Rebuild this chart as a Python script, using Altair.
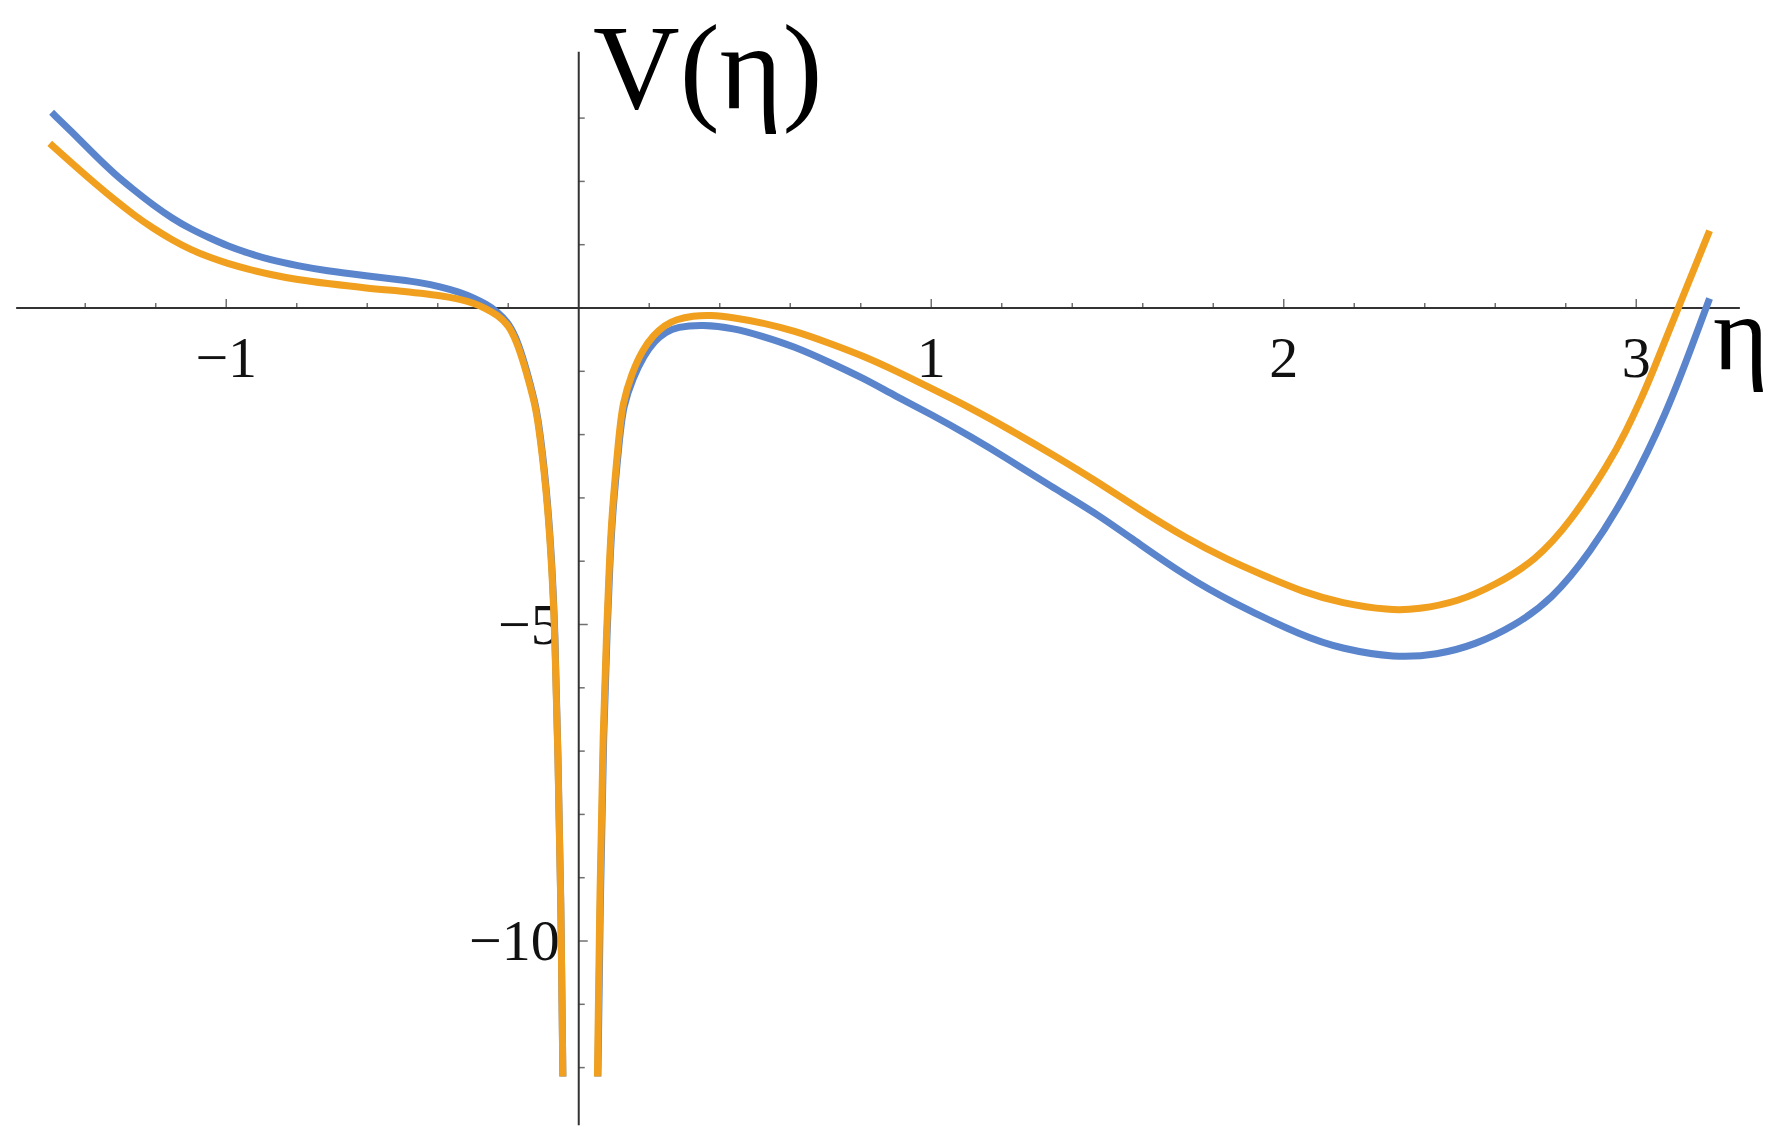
import altair as alt
import pandas as pd

# ---------------- data ----------------
# blue curve, branch left of the singularity
blue_left_eta = [-1.4953, -1.4247, -1.3705, -1.3162, -1.2619, -1.2076, -1.1534, -1.0991,
                 -1.0448, -0.9981, -0.9363, -0.8820, -0.7951, -0.7191, -0.5997, -0.5020,
                 -0.4477, -0.3935, -0.3392, -0.2958, -0.2632, -0.2306, -0.1981, -0.172,
                 -0.147, -0.126, -0.1145, -0.091, -0.077, -0.0675, -0.0588, -0.0508, -0.045]
blue_left_v = [3.091, 2.707, 2.401, 2.112, 1.864, 1.627, 1.417, 1.243,
               1.101, 0.985, 0.864, 0.769, 0.664, 0.590, 0.506, 0.442,
               0.400, 0.337, 0.253, 0.153, 0.063, -0.058, -0.242, -0.54,
               -1.00, -1.45, -1.75, -2.85, -3.94, -5.04, -7.07, -9.18, -12.14]

# blue curve, branch right of the singularity
blue_right_eta = [0.0545, 0.0615, 0.0705, 0.081, 0.0875, 0.095, 0.116, 0.126, 0.154, 0.185,
                  0.215, 0.246, 0.278, 0.352, 0.44, 0.518, 0.612, 0.708, 0.808, 0.898,
                  1.0, 1.112, 1.216, 1.340, 1.47, 1.593, 1.724, 1.842, 2.06, 2.163,
                  2.315, 2.435, 2.543, 2.652, 2.760, 2.869, 2.978, 3.086, 3.162, 3.208]
blue_right_v = [-12.14, -9.18, -6.65, -5.04, -4.15, -3.27, -2.04, -1.55, -1.10, -0.75,
                -0.52, -0.38, -0.30, -0.26, -0.32, -0.44, -0.61, -0.85, -1.11, -1.39,
                -1.68, -2.03, -2.38, -2.82, -3.25, -3.74, -4.24, -4.62, -5.20, -5.38,
                -5.53, -5.48, -5.32, -5.03, -4.61, -3.87, -2.90, -1.66, -0.54, 0.15]

# orange curve, branch left of the singularity
orange_left_eta = [-1.5007, -1.4247, -1.3705, -1.3162, -1.2619, -1.2076, -1.1534, -1.0991,
                   -1.0448, -0.9981, -0.9363, -0.8820, -0.7951, -0.7191, -0.5997, -0.5020,
                   -0.4477, -0.3935, -0.3392, -0.2958, -0.2632, -0.2306, -0.1981, -0.174,
                   -0.149, -0.1275, -0.116, -0.092, -0.078, -0.068, -0.059, -0.051, -0.045]
orange_left_v = [2.601, 2.222, 1.959, 1.706, 1.469, 1.259, 1.074, 0.916,
                 0.795, 0.706, 0.611, 0.537, 0.442, 0.390, 0.311, 0.269,
                 0.232, 0.195, 0.142, 0.074, -0.011, -0.111, -0.27, -0.56,
                 -1.00, -1.45, -1.75, -2.85, -3.94, -5.04, -7.07, -9.18, -12.14]

# orange curve, branch right of the singularity
orange_right_eta = [0.053, 0.060, 0.069, 0.0795, 0.086, 0.0935, 0.114, 0.124, 0.151, 0.181,
                    0.212, 0.244, 0.276, 0.325, 0.372, 0.44, 0.518, 0.612, 0.708, 0.808,
                    0.898, 1.0, 1.112, 1.216, 1.340, 1.47, 1.593, 1.724, 1.842, 1.933,
                    2.06, 2.163, 2.30, 2.381, 2.495, 2.598, 2.713, 2.815, 2.923, 2.97,
                    3.016, 3.043, 3.119, 3.208]
orange_right_v = [-12.14, -9.18, -6.65, -5.04, -4.15, -3.27, -2.02, -1.51, -1.02, -0.66,
                  -0.43, -0.27, -0.18, -0.125, -0.11, -0.15, -0.23, -0.36, -0.55, -0.76,
                  -0.99, -1.27, -1.58, -1.90, -2.30, -2.74, -3.19, -3.64, -3.98, -4.20,
                  -4.50, -4.66, -4.78, -4.76, -4.64, -4.38, -4.00, -3.37, -2.45, -1.96,
                  -1.41, -1.06, 0.0, 1.22]

# axes ticks and labels
x_ticks_major = [-1, 1, 2, 3]
x_ticks_minor = [-1.4, -1.2, -0.8, -0.6, -0.4, -0.2, 0.2, 0.4, 0.6, 0.8,
                 1.2, 1.4, 1.6, 1.8, 2.2, 2.4, 2.6, 2.8, 3.2]
x_tick_labels = ["\u22121", "1", "2", "3"]
y_ticks_major = [-10, -5]
y_ticks_minor = [-12, -11, -9, -8, -7, -6, -4, -3, -2, -1, 1, 2, 3]
y_tick_labels = ["\u221210", "\u22125"]
y_axis_title = "V(\u03b7)"
x_axis_title = "\u03b7"

# ---------------- layout ----------------
W, H = 1772, 1120
X_DOMAIN = [-1.6191, 3.4078]
Y_DOMAIN = [-12.954, 4.7393]
X_AXIS_RANGE = [-1.596, 3.294]
Y_AXIS_RANGE = [-12.91, 4.05]

BLUE = "#5A85CC"
ORANGE = "#F0A01E"
AXIS = "#333333"
FONT = "Liberation Serif"

xs = alt.Scale(domain=X_DOMAIN, nice=False, zero=False)
ys = alt.Scale(domain=Y_DOMAIN, nice=False, zero=False)


def X(field):
    return alt.X(field, scale=xs, axis=None)


def Y(field):
    return alt.Y(field, scale=ys, axis=None)


def curve_df(parts):
    rows = []
    for b, (etas, vs) in enumerate(parts):
        for e, v in zip(etas, vs):
            rows.append({"eta": e, "V": v, "branch": b})
    return pd.DataFrame(rows)


def curve_layer(df, color):
    return alt.Chart(df).mark_line(
        color=color, strokeWidth=7, interpolate="basis", clip=False
    ).encode(x=X("eta:Q"), y=Y("V:Q"), detail="branch:N", order="eta:Q")


blue_df = curve_df([(blue_left_eta, blue_left_v), (blue_right_eta, blue_right_v)])
orange_df = curve_df([(orange_left_eta, orange_left_v), (orange_right_eta, orange_right_v)])

x_axis = alt.Chart(pd.DataFrame({"x": [X_AXIS_RANGE[0]], "x2": [X_AXIS_RANGE[1]], "y": [0.0]})).mark_rule(
    color=AXIS, strokeWidth=2
).encode(x=X("x:Q"), x2="x2:Q", y=Y("y:Q"))

y_axis = alt.Chart(pd.DataFrame({"y": [Y_AXIS_RANGE[0]], "y2": [Y_AXIS_RANGE[1]], "x": [0.0]})).mark_rule(
    color=AXIS, strokeWidth=2
).encode(y=Y("y:Q"), y2="y2:Q", x=X("x:Q"))


def xticks(vals, size):
    df = pd.DataFrame({"x": vals, "y": [0.0] * len(vals)})
    return alt.Chart(df).mark_tick(
        orient="vertical", size=size, thickness=1.5, yOffset=-size / 2, color=AXIS
    ).encode(x=X("x:Q"), y=Y("y:Q"))


def yticks(vals, size):
    df = pd.DataFrame({"y": vals, "x": [0.0] * len(vals)})
    return alt.Chart(df).mark_tick(
        orient="horizontal", size=size, thickness=1.5, xOffset=size / 2, color=AXIS
    ).encode(x=X("x:Q"), y=Y("y:Q"))


x_labels = alt.Chart(pd.DataFrame({"x": x_ticks_major, "y": [0.0] * 4, "t": x_tick_labels})).mark_text(
    font=FONT, fontSize=58, align="center", baseline="alphabetic", dy=69, color="#111111"
).encode(x=X("x:Q"), y=Y("y:Q"), text="t:N")

y_labels = alt.Chart(pd.DataFrame({"y": y_ticks_major, "x": [0.0] * 2, "t": y_tick_labels})).mark_text(
    font=FONT, fontSize=58, align="right", baseline="alphabetic", dx=-19, dy=19, color="#111111"
).encode(x=X("x:Q"), y=Y("y:Q"), text="t:N")

v_title = alt.Chart(pd.DataFrame({"t": [y_axis_title]})).mark_text(
    font=FONT, fontSize=120, align="left", baseline="alphabetic", color="#000000"
).encode(x=alt.value(585), y=alt.value(100), text="t:N")

eta_title = alt.Chart(pd.DataFrame({"t": [x_axis_title]})).mark_text(
    font=FONT, fontSize=106, align="left", baseline="alphabetic", color="#000000"
).encode(x=alt.value(1705), y=alt.value(361), text="t:N")

chart = alt.layer(
    x_axis, y_axis,
    xticks(x_ticks_major, 9), xticks(x_ticks_minor, 5),
    yticks(y_ticks_major, 9), yticks(y_ticks_minor, 6),
    x_labels, y_labels,
    curve_layer(blue_df, BLUE), curve_layer(orange_df, ORANGE),
    v_title, eta_title,
).properties(
    width=W, height=H, padding=0, autosize=alt.AutoSizeParams(type="none")
).configure_view(strokeWidth=0)

chart.save("out.html", embed_options={"renderer": "svg", "actions": False})
